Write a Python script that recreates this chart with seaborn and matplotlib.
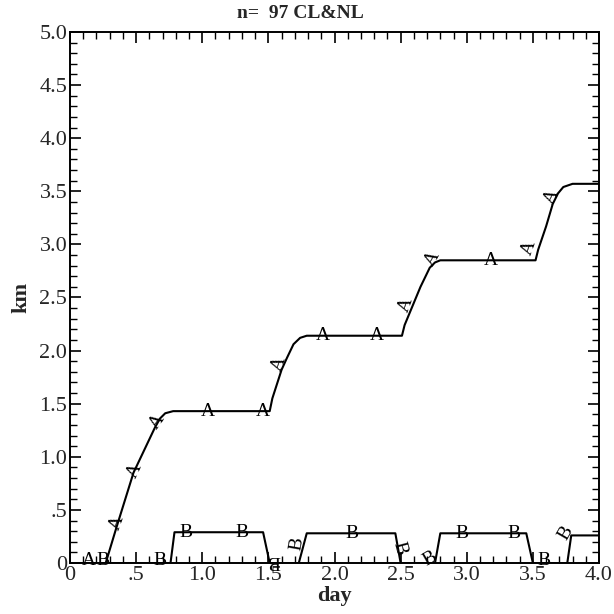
import matplotlib
matplotlib.use("Agg")
import matplotlib.pyplot as plt
from matplotlib.ticker import MultipleLocator, FuncFormatter
import seaborn as sns
import pandas as pd

# Cumulative distance curves (km vs day)
a_day = [0, 0.27, 0.35, 0.48, 0.64, 0.68, 0.72, 0.78, 1.51, 1.53, 1.60, 1.64, 1.69, 1.74,
         1.79, 2.51, 2.53, 2.60, 2.65, 2.72, 2.76, 2.80, 3.52, 3.54, 3.60, 3.65, 3.69, 3.73,
         3.80, 4.0]
a_km = [0, 0, 0.33, 0.85, 1.27, 1.36, 1.41, 1.43, 1.43, 1.55, 1.82, 1.93, 2.06, 2.12,
        2.14, 2.14, 2.24, 2.45, 2.60, 2.78, 2.83, 2.85, 2.85, 2.95, 3.17, 3.38, 3.48, 3.54,
        3.57, 3.57]

b_day = [0, 0.76, 0.79, 1.46, 1.51, 1.73, 1.79, 2.46, 2.50, 2.76, 2.80, 3.45, 3.50, 3.76,
         3.79, 4.0]
b_km = [0, 0, 0.29, 0.29, 0, 0, 0.28, 0.28, 0, 0, 0.28, 0.28, 0, 0, 0.26, 0.26]

# Curve letters placed along each line: (day, km, rotation)
a_label_day = [0.14, 0.355, 0.49, 0.66, 1.04, 1.46, 1.58, 1.91, 2.32, 2.54, 2.74, 3.18, 3.47, 3.64]
a_label_km = [0.02, 0.38, 0.87, 1.33, 1.43, 1.43, 1.88, 2.14, 2.14, 2.43, 2.87, 2.85, 2.97, 3.45]
a_label_rot = [0, 70, 65, 55, 0, 0, 70, 0, 0, 70, 60, 0, 70, 65]

b_label_day = [0.25, 0.68, 0.88, 1.30, 1.54, 1.72, 2.13, 2.49, 2.72, 2.96, 3.36, 3.58, 3.75]
b_label_km = [0.02, 0.02, 0.29, 0.29, 0.02, 0.18, 0.28, 0.14, 0.04, 0.28, 0.28, 0.02, 0.28]
b_label_rot = [0, 0, 0, 0, 180, 80, 0, -75, 30, 0, 0, 0, 60]

sns.set_theme(style="ticks")
plt.rcParams["font.family"] = ["Liberation Serif", "DejaVu Serif"]

df = pd.concat([
    pd.DataFrame({"day": a_day, "km": a_km, "curve": "A"}),
    pd.DataFrame({"day": b_day, "km": b_km, "curve": "B"}),
], ignore_index=True)

fig = plt.figure(figsize=(6.14, 6.14), dpi=100)
ax = fig.add_axes([0.114, 0.083, 0.8616, 0.865])

sns.lineplot(data=df, x="day", y="km", hue="curve", palette={"A": "black", "B": "black"},
             estimator=None, sort=False, legend=False, linewidth=1.5, ax=ax)

for x, y, r in zip(a_label_day, a_label_km, a_label_rot):
    ax.text(x, y, "A", ha="center", va="center", rotation=r, fontsize=14,
            rotation_mode="anchor", color="black")
for x, y, r in zip(b_label_day, b_label_km, b_label_rot):
    ax.text(x, y, "B", ha="center", va="center", rotation=r, fontsize=14,
            rotation_mode="anchor", color="black")

ax.set_xlim(0, 4.0)
ax.set_ylim(0, 5.0)

def fmt(v, pos):
    if abs(v) < 1e-9:
        return "0"
    if abs(v - 0.5) < 1e-9:
        return ".5"
    return f"{v:.1f}"

ax.xaxis.set_major_locator(MultipleLocator(0.5))
ax.xaxis.set_minor_locator(MultipleLocator(0.1))
ax.yaxis.set_major_locator(MultipleLocator(0.5))
ax.yaxis.set_minor_locator(MultipleLocator(0.1))
ax.xaxis.set_major_formatter(FuncFormatter(fmt))
ax.yaxis.set_major_formatter(FuncFormatter(fmt))

ax.tick_params(which="both", direction="in", top=True, right=True, color="black",
               labelsize=16, pad=2)
ax.tick_params(which="major", length=8, width=1.2)
ax.tick_params(which="minor", length=5, width=1.0)

for s in ax.spines.values():
    s.set_linewidth(1.4)
    s.set_color("black")

ax.set_xlabel("day", fontsize=16, fontweight="bold", labelpad=1)
ax.set_ylabel("km", fontsize=16, fontweight="bold", labelpad=6)
fig.text(0.49, 0.978, "n=  97 CL&NL", fontsize=14, fontweight="bold",
         ha="center", va="center")

fig.savefig("out.png", dpi=100)
